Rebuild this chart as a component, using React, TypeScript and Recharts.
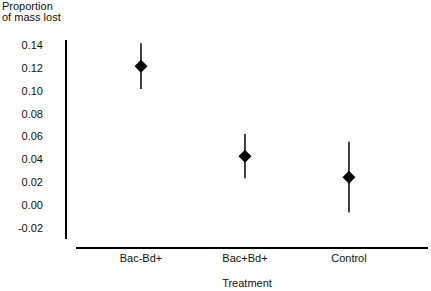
import { ScatterChart, Scatter, XAxis, YAxis, ErrorBar, ReferenceLine } from 'recharts';

const categories = ['Bac-Bd+', 'Bac+Bd+', 'Control'];
const means = [0.1215, 0.0428, 0.0245];
const errors = [0.02, 0.0193, 0.031];
const yTicks = [-0.02, 0, 0.02, 0.04, 0.06, 0.08, 0.1, 0.12, 0.14];

const data = categories.map((name, i) => ({
  pos: i + 1,
  name,
  mean: means[i],
  err: errors[i],
}));

const FONT = '"Liberation Sans", Arial, Helvetica, sans-serif';

const Diamond = (props: any) => {
  const { cx, cy } = props;
  const r = 6.5;
  return (
    <polygon
      points={`${cx},${cy - r} ${cx + r},${cy} ${cx},${cy + r} ${cx - r},${cy}`}
      fill="#000"
    />
  );
};

export default function App() {
  return (
    <div style={{ position: 'absolute', left: 0, top: 0, width: 431, height: 291, background: '#fff', fontFamily: FONT }}>
      <div style={{ position: 'absolute', left: 2, top: 1, fontSize: 11, lineHeight: '11px', color: '#111' }}>
        Proportion
        <br />
        of mass lost
      </div>
      <ScatterChart width={431} height={291} margin={{ top: 40, right: 3, left: 6, bottom: 0 }}>
        <XAxis
          type="number"
          dataKey="pos"
          domain={[0.279, 3.76]}
          ticks={[1, 2, 3]}
          tickFormatter={(v: number) => categories[v - 1] ?? ''}
          axisLine={false}
          tickLine={false}
          tickMargin={9}
          height={52}
          tick={{ fill: '#111', fontSize: 11, fontFamily: FONT }}
          label={{ value: 'Treatment', position: 'insideBottom', offset: 4, fill: '#111', fontSize: 11, fontFamily: FONT }}
        />
        <YAxis
          type="number"
          dataKey="mean"
          domain={[-0.0296, 0.1444]}
          ticks={yTicks}
          tickFormatter={(v: number) => v.toFixed(2)}
          width={60}
          tickLine={false}
          tickMargin={17}
          axisLine={{ stroke: '#000', strokeWidth: 2 }}
          tick={{ fill: '#111', fontSize: 11, fontFamily: FONT }}
          allowDataOverflow
        />
        <ReferenceLine
          segment={[
            { x: 0.375, y: -0.0375 },
            { x: 3.76, y: -0.0375 },
          ]}
          stroke="#000"
          strokeWidth={2}
          ifOverflow="visible"
        />
        <Scatter data={data} shape={<Diamond />} isAnimationActive={false}>
          <ErrorBar dataKey="err" direction="y" width={0} stroke="#000" strokeWidth={1.5} />
        </Scatter>
      </ScatterChart>
    </div>
  );
}
